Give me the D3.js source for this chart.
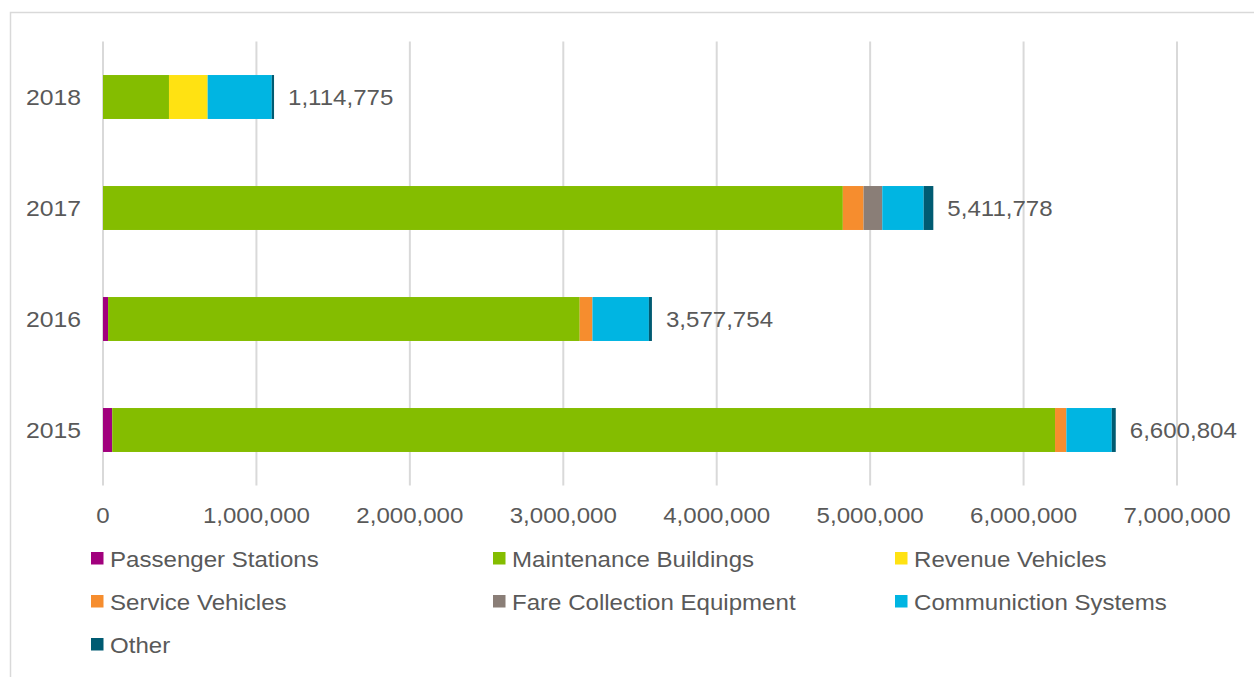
<!DOCTYPE html>
<html>
<head>
<meta charset="utf-8">
<script src="https://cdn.jsdelivr.net/npm/d3@7"></script>
<style>
  html, body { margin: 0; padding: 0; background: #fff; }
  svg { display: block; }
  text { font-family: "Liberation Sans", Arial, sans-serif; fill: #595959; }
</style>
</head>
<body>
<svg id="chart" width="1254" height="677"></svg>
<script>
// Capital spending by asset category, per year
const years = ["2018", "2017", "2016", "2015"];
const seriesNames = [
  "Passenger Stations", "Maintenance Buildings", "Revenue Vehicles",
  "Service Vehicles", "Fare Collection Equipment", "Communiction Systems", "Other"
];
const passengerStations     = [0,       0,       33000,   60000];
const maintenanceBuildings  = [430000,  4822000, 3074000, 6145000];
const revenueVehicles       = [252000,  0,       0,       0];
const serviceVehicles       = [0,       135000,  83000,   74000];
const fareCollection        = [0,       122000,  0,       0];
const communicationSystems  = [418000,  270000,  368000,  296000];
const other                 = [14775,   62778,   19754,   25804];
const totals                = [1114775, 5411778, 3577754, 6600804];
const tickValues = [0, 1000000, 2000000, 3000000, 4000000, 5000000, 6000000, 7000000];

const colors = ["#A1007D", "#84BD00", "#FFE212", "#F68D2E", "#8A7E77", "#00B5E2", "#005B72"];
const seriesValues = [passengerStations, maintenanceBuildings, revenueVehicles,
  serviceVehicles, fareCollection, communicationSystems, other];

const rows = years.map((y, i) => {
  const r = { year: y };
  seriesNames.forEach((s, k) => { r[s] = seriesValues[k][i]; });
  return r;
});

const svg = d3.select("#chart");
const fmt = d3.format(",");

// Chart area frame
svg.append("rect")
  .attr("x", 10.5).attr("y", 12.5)
  .attr("width", 1260).attr("height", 680)
  .attr("fill", "none").attr("stroke", "#d9d9d9").attr("stroke-width", 1.5);

const plot = { left: 103, right: 1177, top: 41.5, bottom: 485.5 };

const x = d3.scaleLinear().domain([0, 7000000]).range([plot.left, plot.right]);
const y = d3.scaleBand().domain(years).range([plot.top, plot.bottom]).paddingInner(0.604).paddingOuter(0.302);

// Vertical gridlines
svg.append("g").selectAll("line").data(tickValues).join("line")
  .attr("x1", d => x(d)).attr("x2", d => x(d))
  .attr("y1", plot.top).attr("y2", plot.bottom)
  .attr("stroke", "#d9d9d9").attr("stroke-width", 2);

// Helper: text with slight horizontal stretch
function stretchedText(g, tx, ty, str, size, sx, anchor) {
  return g.append("text")
    .attr("transform", `translate(${tx},${ty}) scale(${sx},1)`)
    .attr("text-anchor", anchor)
    .style("font-size", size + "px")
    .text(str);
}

// X axis labels
const xAxis = svg.append("g");
tickValues.forEach(v => stretchedText(xAxis, x(v), 523, fmt(v), 22.5, 1.07, "middle"));

// Y axis labels
const yAxis = svg.append("g");
years.forEach(yr => stretchedText(yAxis, 81, y(yr) + y.bandwidth() / 2 + 8, yr, 22.5, 1.1, "end"));

// Stacked bars
const stack = d3.stack().keys(seriesNames);
const layers = stack(rows);
svg.append("g").selectAll("g").data(layers).join("g")
  .attr("fill", (d, i) => colors[i])
  .selectAll("rect").data(d => d).join("rect")
  .attr("x", d => x(d[0]))
  .attr("width", d => Math.max(0, x(d[1]) - x(d[0])))
  .attr("y", d => y(d.data.year))
  .attr("height", y.bandwidth());

// Total labels
const labels = svg.append("g");
years.forEach((yr, i) => stretchedText(labels, x(totals[i]) + 14, y(yr) + y.bandwidth() / 2 + 8, fmt(totals[i]), 22.5, 1.07, "start"));

// Legend
const legend = svg.append("g");
const colX = [91, 493, 895];
const rowY = [552, 595, 638];
seriesNames.forEach((name, i) => {
  const cx = colX[i % 3], cy = rowY[Math.floor(i / 3)];
  legend.append("rect").attr("x", cx).attr("y", cy).attr("width", 12.5).attr("height", 12.5).attr("fill", colors[i]);
  stretchedText(legend, cx + 19, cy + 14.5, name, 21.5, 1.12, "start");
});
</script>
</body>
</html>
